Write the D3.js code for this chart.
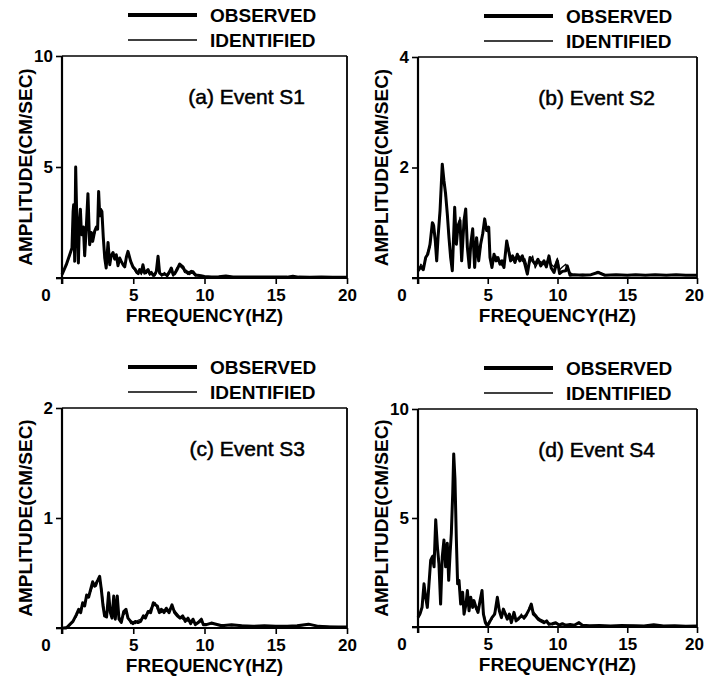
<!DOCTYPE html>
<html lang="en">
<head>
<meta charset="UTF-8">
<title>Observed and identified amplitude spectra</title>
<script src="https://d3js.org/d3.v7.min.js"></script>
<style>
  body { margin: 0; background: #fff; }
  svg { display: block; font-family: "Liberation Sans", Arial, Helvetica, sans-serif; }
  .tick text { font-size: 17px; font-weight: bold; fill: #000; }
  .tick line { stroke: #000; stroke-width: 1.6px; }
</style>
</head>
<body>
<div id="chart"></div>
<script>
    const width = 705, height = 684;

    // ---- data (frequency in Hz, amplitude in cm/sec) ----
    const freqA = [0, 0.3, 0.54, 0.7, 0.78, 0.82, 0.89, 0.96, 1.02, 1.08,
        1.15, 1.22, 1.29, 1.35, 1.4, 1.5, 1.59, 1.7, 1.82, 1.94,
        2.06, 2.15, 2.29, 2.41, 2.5, 2.57, 2.65, 2.71, 2.8, 2.9,
        3.0, 3.1, 3.23, 3.35, 3.45, 3.58, 3.7, 3.81, 3.93, 4.05,
        4.16, 4.28, 4.4, 4.52, 4.63, 4.82, 4.98, 5.1, 5.22, 5.35,
        5.45, 5.57, 5.68, 5.8, 5.92, 6.04, 6.15, 6.27, 6.4, 6.5,
        6.62, 6.74, 6.85, 7.0, 7.2, 7.38, 7.56, 7.67, 7.8, 7.9,
        8.05, 8.26, 8.4, 8.49, 8.6, 8.73, 8.85, 8.96, 9.08, 9.19,
        9.35, 9.54, 9.75, 10.0, 10.5, 11.0, 11.5, 12.0, 12.8, 13.5,
        14.3, 15.0, 15.8, 16.2, 16.6, 17.4, 18.2, 19.0, 20.0];
    const observedA = [0.15, 0.6, 1.05, 1.35, 3.0, 3.3, 0.75, 5.0, 3.2, 1.95,
        0.68, 2.4, 3.1, 2.2, 1.95, 2.3, 1.0, 2.2, 3.8, 1.5,
        2.05, 1.65, 2.1, 2.3, 2.2, 3.9, 2.8, 3.1, 3.0, 1.8,
        0.9, 0.45, 1.6, 0.6, 1.0, 1.15, 0.85, 1.05, 0.55, 0.9,
        0.75, 0.6, 0.5, 0.95, 1.2, 0.75, 0.5, 0.42, 0.3, 0.2,
        0.38, 0.25, 0.6, 0.22, 0.3, 0.38, 0.2, 0.25, 0.12, 0.15,
        0.3, 0.98, 0.22, 0.15, 0.18, 0.12, 0.3, 0.45, 0.15, 0.18,
        0.35, 0.63, 0.55, 0.5, 0.35, 0.3, 0.2, 0.25, 0.3, 0.28,
        0.15, 0.12, 0.1, 0.07, 0.05, 0.06, 0.09, 0.05, 0.04, 0.05,
        0.04, 0.05, 0.04, 0.08, 0.04, 0.03, 0.04, 0.03, 0.03];
    const identifiedA = [0.2, 0.55, 1.0, 1.4, 2.8, 3.2, 0.9, 4.8, 3.0, 2.0,
        0.8, 2.3, 3.0, 2.3, 2.0, 2.2, 1.1, 2.1, 3.7, 1.6,
        2.0, 1.7, 2.0, 2.25, 2.3, 3.8, 2.9, 3.0, 2.9, 1.9,
        1.0, 0.5, 1.5, 0.7, 0.95, 1.1, 0.9, 1.0, 0.6, 0.85,
        0.8, 0.55, 0.55, 0.9, 1.1, 0.8, 0.45, 0.35, 0.2, 0.28,
        0.3, 0.15, 0.5, 0.3, 0.2, 0.3, 0.12, 0.18, 0.2, 0.08,
        0.22, 0.85, 0.3, 0.08, 0.25, 0.05, 0.22, 0.38, 0.08, 0.25,
        0.45, 0.55, 0.45, 0.4, 0.25, 0.22, 0.3, 0.15, 0.22, 0.2,
        0.08, 0.1, 0.06, 0.05, 0.04, 0.05, 0.07, 0.04, 0.05, 0.04,
        0.05, 0.04, 0.05, 0.06, 0.05, 0.04, 0.03, 0.04, 0.03];

    const freqB = [0, 0.2, 0.38, 0.55, 0.7, 0.86, 1.03, 1.12, 1.24, 1.34,
        1.44, 1.58, 1.74, 1.86, 1.98, 2.1, 2.22, 2.34, 2.46, 2.63,
        2.75, 2.87, 3.01, 3.13, 3.3, 3.42, 3.54, 3.68, 3.78, 3.92,
        4.06, 4.2, 4.35, 4.49, 4.64, 4.78, 4.92, 5.07, 5.16, 5.3,
        5.45, 5.59, 5.73, 5.88, 6.02, 6.16, 6.36, 6.5, 6.64, 6.78,
        6.95, 7.12, 7.3, 7.48, 7.66, 7.84, 8.03, 8.22, 8.4, 8.6,
        8.8, 9.03, 9.2, 9.39, 9.55, 9.75, 9.99, 10.15, 10.35, 10.59,
        10.7, 10.9, 11.2, 11.8, 12.4, 12.9, 13.4, 14.2, 15.0, 15.6,
        16.3, 17.0, 17.8, 18.5, 19.2, 20.0];
    const observedB = [0.13, 0.2, 0.15, 0.37, 0.43, 0.61, 1.0, 0.95, 0.67, 0.31,
        0.75, 1.22, 2.06, 1.76, 1.52, 1.16, 0.73, 0.37, 0.13, 1.28,
        0.61, 0.95, 1.04, 0.31, 1.04, 1.25, 0.55, 0.19, 0.61, 0.89,
        0.19, 0.73, 0.31, 0.61, 0.8, 1.07, 0.86, 0.92, 0.37, 0.19,
        0.43, 0.31, 0.37, 0.25, 0.31, 0.19, 0.67, 0.49, 0.31, 0.4,
        0.28, 0.43, 0.31, 0.4, 0.25, 0.07, 0.37, 0.31, 0.25, 0.34,
        0.22, 0.31, 0.2, 0.4, 0.18, 0.1, 0.31, 0.08, 0.12, 0.13,
        0.22, 0.05, 0.06, 0.05, 0.06, 0.1, 0.05, 0.06, 0.05, 0.06,
        0.05, 0.06, 0.05, 0.06, 0.05, 0.05];
    const identifiedB = [0.1, 0.25, 0.2, 0.33, 0.5, 0.55, 0.95, 1.0, 0.6, 0.4,
        0.7, 1.3, 1.95, 1.8, 1.45, 1.2, 0.65, 0.45, 0.2, 1.2,
        0.7, 0.9, 1.1, 0.4, 0.95, 1.2, 0.6, 0.25, 0.55, 0.85,
        0.3, 0.65, 0.4, 0.55, 0.85, 1.0, 0.9, 0.8, 0.45, 0.25,
        0.35, 0.4, 0.3, 0.32, 0.22, 0.28, 0.6, 0.55, 0.38, 0.32,
        0.38, 0.34, 0.4, 0.3, 0.35, 0.2, 0.28, 0.4, 0.18, 0.28,
        0.3, 0.24, 0.3, 0.3, 0.25, 0.2, 0.36, 0.15, 0.2, 0.25,
        0.15, 0.1, 0.05, 0.07, 0.05, 0.12, 0.06, 0.05, 0.06, 0.05,
        0.06, 0.05, 0.06, 0.05, 0.06, 0.05];

    const freqC = [0, 0.3, 0.54, 0.77, 1.0, 1.17, 1.31, 1.45, 1.59, 1.73,
        1.87, 2.01, 2.15, 2.29, 2.41, 2.53, 2.64, 2.76, 2.88, 2.99,
        3.13, 3.27, 3.39, 3.51, 3.63, 3.74, 3.88, 4.0, 4.16, 4.33,
        4.49, 4.63, 4.82, 4.98, 5.15, 5.33, 5.52, 5.71, 5.85, 6.04,
        6.22, 6.41, 6.55, 6.69, 6.83, 6.97, 7.16, 7.32, 7.51, 7.72,
        7.9, 8.09, 8.28, 8.47, 8.65, 8.84, 9.03, 9.19, 9.36, 9.55,
        9.78, 9.92, 10.13, 10.48, 11.2, 11.9, 12.6, 13.4, 14.2, 15.0,
        15.8, 16.5, 17.3, 18.0, 18.8, 20.0];
    const observedC = [0.0, 0.0, 0.03, 0.06, 0.12, 0.17, 0.14, 0.23, 0.2, 0.3,
        0.28, 0.35, 0.42, 0.38, 0.41, 0.44, 0.47, 0.35, 0.2, 0.11,
        0.1, 0.32, 0.14, 0.09, 0.29, 0.08, 0.29, 0.08, 0.05, 0.15,
        0.17, 0.09, 0.06, 0.04, 0.06, 0.05, 0.06, 0.11, 0.09, 0.15,
        0.14, 0.23, 0.21, 0.2, 0.14, 0.17, 0.14, 0.18, 0.14, 0.21,
        0.14, 0.11, 0.09, 0.11, 0.06, 0.09, 0.04, 0.08, 0.03, 0.05,
        0.08, 0.03, 0.03, 0.045, 0.02, 0.03, 0.02, 0.015, 0.02, 0.015,
        0.015, 0.02, 0.035, 0.015, 0.01, 0.01];
    const identifiedC = [0.0, 0.01, 0.02, 0.07, 0.1, 0.15, 0.18, 0.2, 0.24, 0.27,
        0.31, 0.33, 0.38, 0.4, 0.38, 0.43, 0.44, 0.38, 0.25, 0.15,
        0.14, 0.28, 0.18, 0.12, 0.25, 0.12, 0.25, 0.1, 0.08, 0.12,
        0.14, 0.1, 0.04, 0.06, 0.04, 0.07, 0.08, 0.09, 0.12, 0.13,
        0.18, 0.2, 0.23, 0.17, 0.17, 0.14, 0.17, 0.15, 0.17, 0.18,
        0.16, 0.13, 0.1, 0.08, 0.09, 0.06, 0.07, 0.05, 0.05, 0.04,
        0.06, 0.04, 0.04, 0.035, 0.03, 0.02, 0.025, 0.02, 0.015, 0.02,
        0.02, 0.015, 0.03, 0.02, 0.015, 0.01];

    const freqD = [0, 0.14, 0.29, 0.43, 0.55, 0.67, 0.79, 0.91, 1.03, 1.15,
        1.27, 1.39, 1.5, 1.62, 1.74, 1.86, 1.98, 2.1, 2.2, 2.3,
        2.39, 2.49, 2.56, 2.65, 2.75, 2.84, 2.94, 3.06, 3.2, 3.3,
        3.44, 3.54, 3.66, 3.78, 3.92, 4.01, 4.16, 4.3, 4.45, 4.59,
        4.69, 4.83, 4.97, 5.11, 5.3, 5.5, 5.69, 5.83, 5.98, 6.12,
        6.26, 6.4, 6.55, 6.69, 6.88, 7.03, 7.22, 7.41, 7.6, 7.79,
        7.98, 8.12, 8.27, 8.41, 8.6, 8.8, 9.03, 9.22, 9.39, 9.63,
        9.87, 10.1, 10.35, 10.59, 10.9, 11.2, 11.54, 11.78, 12.3, 13.0,
        13.8, 14.6, 15.4, 16.2, 16.9, 17.6, 18.4, 19.2, 20.0];
    const observedD = [0.43, 0.6, 0.9, 1.98, 1.36, 0.9, 2.0, 3.07, 3.22, 2.76,
        4.92, 3.68, 2.91, 1.05, 3.22, 3.99, 2.76, 3.84, 2.14, 3.37,
        4.3, 6.16, 7.94, 6.78, 3.99, 1.98, 2.14, 1.05, 1.59, 0.59,
        1.05, 1.67, 0.74, 1.36, 0.9, 1.21, 0.9, 0.67, 1.21, 1.67,
        0.59, 0.2, 0.05, 0.2, 0.43, 0.59, 1.36, 0.74, 0.43, 0.82,
        0.59, 0.36, 0.59, 0.2, 0.67, 0.28, 0.4, 0.51, 0.43, 0.59,
        0.82, 1.05, 0.59, 0.51, 0.36, 0.28, 0.2, 0.28, 0.12, 0.15,
        0.2, 0.09, 0.15, 0.08, 0.12, 0.08, 0.2, 0.08, 0.06, 0.07,
        0.05, 0.07, 0.06, 0.05, 0.1, 0.05, 0.06, 0.04, 0.05];
    const identifiedD = [0.5, 0.55, 1.0, 1.85, 1.5, 1.05, 1.9, 2.9, 3.3, 2.9,
        4.7, 3.8, 2.7, 1.3, 3.1, 3.8, 2.9, 3.6, 2.4, 3.2,
        4.5, 6.0, 7.7, 6.9, 4.2, 2.1, 1.9, 1.2, 1.4, 0.75,
        0.95, 1.5, 0.85, 1.25, 1.0, 1.1, 0.8, 0.8, 1.1, 1.5,
        0.7, 0.3, 0.12, 0.28, 0.35, 0.7, 1.2, 0.85, 0.5, 0.7,
        0.68, 0.45, 0.5, 0.3, 0.55, 0.38, 0.32, 0.6, 0.35, 0.5,
        0.9, 0.95, 0.7, 0.6, 0.45, 0.35, 0.28, 0.2, 0.18, 0.1,
        0.15, 0.12, 0.1, 0.12, 0.08, 0.11, 0.15, 0.1, 0.05, 0.06,
        0.06, 0.05, 0.07, 0.06, 0.08, 0.06, 0.05, 0.05, 0.04];

    const titles = ["(a) Event S1", "(b) Event S2", "(c) Event S3", "(d) Event S4"];
    const yMaxes = [10, 4, 2, 10];
    const yTickValues = [[0, 5, 10], [0, 2, 4], [0, 1, 2], [0, 5, 10]];
    const xTickValues = [0, 5, 10, 15, 20];
    const legendLabels = ["OBSERVED", "IDENTIFIED"];

    // plot boxes in page pixels
    const boxes = [
        { left: 62, top: 56, right: 347, bottom: 278 },
        { left: 418, top: 57, right: 697, bottom: 278 },
        { left: 62, top: 408, right: 347, bottom: 628 },
        { left: 418, top: 409, right: 697, bottom: 627 }
    ];

    const panels = [
        { freq: freqA, obs: observedA, ident: identifiedA },
        { freq: freqB, obs: observedB, ident: identifiedB },
        { freq: freqC, obs: observedC, ident: identifiedC },
        { freq: freqD, obs: observedD, ident: identifiedD }
    ];

    const svg = d3.select("#chart").append("svg")
        .attr("width", width)
        .attr("height", height);

    panels.forEach((p, i) => {
        const b = boxes[i];
        const x = d3.scaleLinear().domain([0, 20]).range([b.left, b.right]);
        const y = d3.scaleLinear().domain([0, yMaxes[i]]).range([b.bottom, b.top]);
        const g = svg.append("g");

        // axes (ticks outward, labels except the corner zero)
        const xAxisG = g.append("g")
            .attr("transform", `translate(0,${b.bottom})`)
            .call(d3.axisBottom(x).tickValues(xTickValues).tickSize(6).tickPadding(5)
                .tickFormat(d => d === 0 ? "" : d))
            .call(a => a.select(".domain").remove());
        // keep the last label inside the page on the right-hand column
        if (b.right + 12 > width) {
            xAxisG.selectAll(".tick text").filter(d => d === 20).attr("dx", -3);
        }
        g.append("g")
            .attr("transform", `translate(${b.left},0)`)
            .call(d3.axisLeft(y).tickValues(yTickValues[i]).tickSize(6).tickPadding(3)
                .tickFormat(d => d === 0 ? "" : d))
            .call(a => a.select(".domain").remove());

        g.append("text")
            .attr("x", b.left - 16).attr("y", b.bottom + 23)
            .attr("text-anchor", "middle")
            .style("font-size", "17px").style("font-weight", "bold")
            .text("0");

        // frame
        g.append("line").attr("x1", b.left).attr("x2", b.right).attr("y1", b.top).attr("y2", b.top)
            .attr("stroke", "#000").attr("stroke-width", 1.4);
        g.append("line").attr("x1", b.right).attr("x2", b.right).attr("y1", b.top).attr("y2", b.bottom)
            .attr("stroke", "#000").attr("stroke-width", 1.8);
        g.append("line").attr("x1", b.left - 6).attr("x2", b.right).attr("y1", b.bottom).attr("y2", b.bottom)
            .attr("stroke", "#000").attr("stroke-width", 1.9);
        g.append("line").attr("x1", b.left).attr("x2", b.left).attr("y1", b.top).attr("y2", b.bottom + 6)
            .attr("stroke", "#000").attr("stroke-width", 2.2);

        // spectra
        const line = d3.line().x(d => x(d[0])).y(d => y(d[1]));
        g.append("path")
            .datum(d3.zip(p.freq, p.obs))
            .attr("fill", "none").attr("stroke", "#000")
            .attr("stroke-width", 3).attr("stroke-linejoin", "round")
            .attr("d", line);
        g.append("path")
            .datum(d3.zip(p.freq, p.ident))
            .attr("fill", "none").attr("stroke", "#000")
            .attr("stroke-width", 1.2).attr("stroke-linejoin", "round")
            .attr("d", line);

        // titles
        g.append("text")
            .attr("x", b.right - 42).attr("y", b.top + 48)
            .attr("text-anchor", "end")
            .style("font-size", "21px")
            .attr("stroke", "#000").attr("stroke-width", 0.5)
            .text(titles[i]);

        // axis labels
        g.append("text")
            .attr("x", (b.left + b.right) / 2).attr("y", b.bottom + 44)
            .attr("text-anchor", "middle")
            .style("font-size", "19px").style("font-weight", "bold")
            .text("FREQUENCY(HZ)");
        g.append("text")
            .attr("transform", `translate(${b.left - 37},${(b.top + b.bottom) / 2}) rotate(-90)`)
            .attr("text-anchor", "middle")
            .attr("dy", "0.35em")
            .style("font-size", "19px").style("font-weight", "bold")
            .text("AMPLITUDE(CM/SEC)");

        // legend above the box
        legendLabels.forEach((lab, k) => {
            const ly = b.top - 41 + k * 25;
            g.append("line")
                .attr("x1", b.left + 66).attr("x2", b.left + 135)
                .attr("y1", ly).attr("y2", ly)
                .attr("stroke", "#000").attr("stroke-width", k === 0 ? 4 : 1.3);
            g.append("text")
                .attr("x", b.left + 148).attr("y", ly + 7)
                .style("font-size", "19px").style("font-weight", "bold")
                .text(lab);
        });
    });
</script>
</body>
</html>
